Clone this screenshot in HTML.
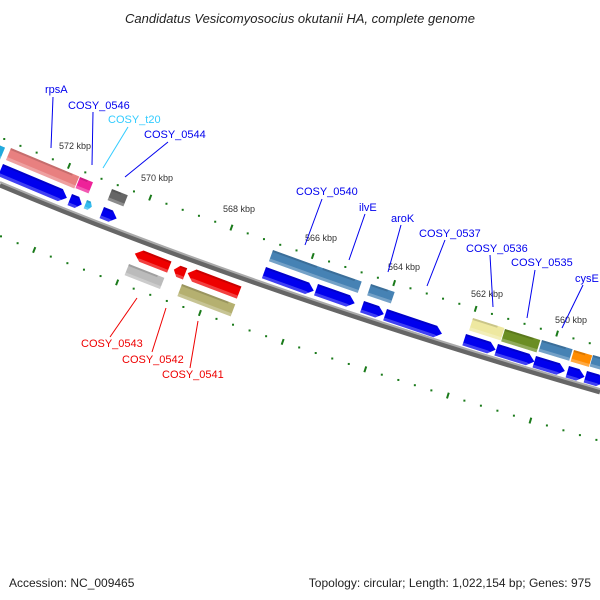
<!DOCTYPE html>
<html><head><meta charset="utf-8"><style>
body{margin:0;background:#fff;width:600px;height:600px;overflow:hidden}
svg{display:block}
text{font-family:"Liberation Sans",sans-serif}
</style></head><body>
<svg id="s" width="600" height="600" xmlns="http://www.w3.org/2000/svg">
<text x="300" y="23" text-anchor="middle" font-size="13" font-style="italic" fill="#222">Candidatus Vesicomyosocius okutanii HA, complete genome</text>
<text x="9" y="587" font-size="12" fill="#222">Accession: NC_009465</text>
<text x="591" y="587" text-anchor="end" font-size="12" fill="#222">Topology: circular; Length: 1,022,154 bp; Genes: 975</text>
<path d="M0,185 Q254,292 600,392" stroke="#666" stroke-width="5" fill="none"/>
<path d="M0,182 Q254,289 600,389" stroke="#aaa" stroke-width="2" fill="none"/>
<g id="genes"></g>
<g id="dots" fill="#1a7a1a" stroke="#1a7a1a"></g>
<g font-size="9" fill="#333">
<text x="59" y="149">572 kbp</text><text x="141" y="181">570 kbp</text><text x="223" y="212">568 kbp</text>
<text x="305" y="241">566 kbp</text><text x="388" y="270">564 kbp</text><text x="471" y="297">562 kbp</text><text x="555" y="323">560 kbp</text>
</g>
<g font-size="11" fill="#0000ee">
<text x="45" y="93">rpsA</text><text x="68" y="109">COSY_0546</text>
<text x="108" y="123" fill="#33ccff">COSY_t20</text><text x="144" y="138">COSY_0544</text>
<text x="296" y="195">COSY_0540</text><text x="359" y="211">ilvE</text><text x="391" y="222">aroK</text>
<text x="419" y="237">COSY_0537</text><text x="466" y="252">COSY_0536</text><text x="511" y="266">COSY_0535</text><text x="575" y="282">cysE</text>
</g>
<g font-size="11" fill="#ee0000">
<text x="81" y="347">COSY_0543</text><text x="122" y="363">COSY_0542</text><text x="162" y="378">COSY_0541</text>
</g>
<g stroke="#0000ee" stroke-width="1">
<line x1="53" y1="97" x2="51" y2="148"/><line x1="93" y1="112" x2="92" y2="165"/>
<line x1="168" y1="142" x2="125" y2="177"/><line x1="322" y1="199" x2="305" y2="245"/>
<line x1="365" y1="214" x2="349" y2="260"/><line x1="401" y1="225" x2="388" y2="272"/>
<line x1="445" y1="240" x2="427" y2="286"/><line x1="490" y1="255" x2="493" y2="307"/>
<line x1="535" y1="270" x2="527" y2="318"/><line x1="583" y1="285" x2="562" y2="328"/>
</g>
<line x1="128" y1="127" x2="103" y2="168" stroke="#33ccff"/>
<g stroke="#ee0000"><line x1="137" y1="298" x2="110" y2="337"/><line x1="166" y1="308" x2="152" y2="352"/><line x1="198" y1="321" x2="190" y2="368"/></g>
</svg>
<script>
var NS="http://www.w3.org/2000/svg";
function ang(x){return Math.atan(0.42-0.13*x/600)*180/Math.PI;}
function el(t,a,p){var e=document.createElementNS(NS,t);for(var k in a)e.setAttribute(k,a[k]);p.appendChild(e);return e;}
var G=document.getElementById('genes');
function gene(x,y,len,col,type,h){h=h||12;var g=el('g',{transform:'translate('+x+','+y+') rotate('+ang(x).toFixed(2)+')'},G);
 var a=Math.min(7,len*0.4),pts;
 if(type==1)pts=[[0,0],[len-a,0],[len,h/2],[len-a,h],[0,h]];
 else if(type==-1)pts=[[a,0],[len,0],[len,h],[a,h],[0,h/2]];
 else pts=[[0,0],[len,0],[len,h],[0,h]];
 el('polygon',{points:pts.map(function(p){return p.join(',')}).join(' '),fill:col},g);
 el('polygon',{points:pts.map(function(p){return p.join(',')}).join(' '),fill:'rgba(255,255,255,0.25)',transform:'translate(0,'+(h*0.75)+') scale(1,0.25)'},g);
 el('rect',{x:type==-1?a:0,y:0,width:len-a,height:2,fill:'rgba(0,0,0,0.15)'},g);
}
gene(-6,143,12,'#22aadd',0,13);
gene(11,148,74,'#e88080',0,13);
gene(80,177,14,'#ee2299',0,12);
gene(112,189,17,'#666',0,12);
gene(273,250,54,'#4682b4',0,12);
gene(323,268,41,'#4682b4',0,12);
gene(371,284,25,'#4682b4',0,12);
gene(473,318,33,'#eee8a0',0,13);
gene(505,329,37,'#6b8e23',0,13);
gene(542,340,32,'#4682b4',0,12);
gene(574,350,19,'#ff8c00',0,12);
gene(593,355,20,'#4682b4',0,12);
gene(3,164,72,'#0000ee',1,13);
gene(72,194,13,'#0000ee',1,12);
gene(87,200,7,'#33bbee',1,9);
gene(104,207,16,'#0000ee',1,12);
gene(266,267,53,'#0000ee',1,12);
gene(318,284,41,'#0000ee',1,12);
gene(364,301,23,'#0000ee',1,12);
gene(387,309,60,'#0000ee',1,12);
gene(466,334,33,'#0000ee',1,12);
gene(498,344,40,'#0000ee',1,12);
gene(536,356,32,'#0000ee',1,12);
gene(569,366,18,'#0000ee',1,12);
gene(587,371,20,'#0000ee',1,12);
gene(137,248,37,'#ee0000',-1,12);
gene(129,264,38,'#bbbbbb',0,12);
gene(176,264,12,'#ee0000',-1,12);
gene(190,267,55,'#ee0000',-1,13);
gene(182,284,57,'#b5b070',0,13);
var D=document.getElementById('dots');
function pt(t){var x=508*t+92*t*t;var y=(1-t)*(1-t)*185+2*t*(1-t)*292+t*t*392;var dx=508+184*t,dy=2*(1-t)*107+2*t*100;var L=Math.hypot(dx,dy);return [x,y,dx/L,dy/L];}
function row(off,phase,majorPhase){for(var i=0;i<60;i++){var xs=phase+i*16.4;if(xs>640)break;
 var t=0,lo=-0.2,hi=1.3;for(var k=0;k<40;k++){t=(lo+hi)/2;var x=508*t+92*t*t;if(x<xs)lo=t;else hi=t;}
 var p=pt(t);var nx=p[3],ny=-p[2];var cx=p[0]+nx*off,cy=p[1]+ny*off;
 if(cx<-3||cx>603)continue;
 if(i>=majorPhase&&(i-majorPhase)%5==0){el('line',{x1:cx+nx*3,y1:cy+ny*3,x2:cx-nx*3,y2:cy-ny*3,'stroke-width':2},D);}
 else el('rect',{x:cx-1,y:cy-1,width:2,height:2,stroke:'none'},D);}}
row(44,-13,4);
row(-47,19,2);
</script>
</body></html>
